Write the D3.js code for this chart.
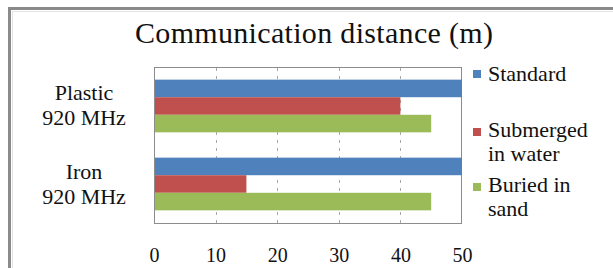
<!DOCTYPE html>
<html><head><meta charset="utf-8">
<script src="https://cdn.jsdelivr.net/npm/d3@7"></script>
<style>html,body{margin:0;padding:0;background:#fff;overflow:hidden}</style>
</head><body>
<svg id="c" width="613" height="268"></svg>
<script>
const categories = ["Plastic|920 MHz", "Iron|920 MHz"];
const seriesNames = ["Standard", "Submerged|in water", "Buried in|sand"];
const standard = [50, 50];
const submerged = [40, 15];
const buried = [45, 45];
const xTicks = [0, 10, 20, 30, 40, 50];
const colors = ["#4F81BD", "#C0504D", "#9BBB59"];
const title = "Communication distance (m)";

const seriesValues = [standard, submerged, buried];
const svg = d3.select("#c");
const serif = "'Liberation Serif', 'Times New Roman', serif";

// outer frame
svg.append("rect").attr("x", 9.5).attr("y", 8.5).attr("width", 700).attr("height", 400)
  .attr("fill", "#fff").attr("stroke", "#8a8a8a").attr("stroke-width", 3);
svg.append("rect").attr("x", 12.5).attr("y", 11.5).attr("width", 700).attr("height", 400)
  .attr("fill", "none").attr("stroke", "#e4e4e4").attr("stroke-width", 1);

const L = 154, R = 462, T = 67, B = 223;
const x = d3.scaleLinear().domain([0, 50]).range([L, R]);
const y = d3.scaleBand().domain(categories).range([T, B]).padding(0);
const ySub = d3.scaleBand().domain(d3.range(3)).range([0, y.bandwidth()]).paddingInner(0).paddingOuter(0.72);

// title
svg.append("text").attr("x", 314).attr("y", 43).attr("text-anchor", "middle")
  .attr("font-family", serif).attr("font-size", 30)
  .attr("fill", "#111").text(title)
  .attr("textLength", 358).attr("lengthAdjust", "spacing");

// plot frame
svg.append("rect").attr("x", L + 0.5).attr("y", T + 0.5).attr("width", R - L - 1).attr("height", B - T)
  .attr("fill", "#fff").attr("stroke", "#8c8c8c").attr("stroke-width", 1);

// gridlines
svg.append("g").selectAll("line").data(xTicks.filter(d => d > 0 && d < 50)).join("line")
  .attr("x1", d => Math.round(x(d)) + 0.5).attr("x2", d => Math.round(x(d)) + 0.5)
  .attr("y1", T + 1).attr("y2", B)
  .attr("stroke", "#a8a8a8").attr("stroke-width", 1).attr("stroke-dasharray", "3,5");

// bars
const g = svg.append("g");
categories.forEach((c, ci) => {
  seriesValues.forEach((vals, si) => {
    g.append("rect")
      .attr("x", x(0) + 1)
      .attr("y", y(c) + ySub(si))
      .attr("width", x(vals[ci]) - x(0) - 1)
      .attr("height", ySub.bandwidth())
      .attr("fill", colors[si]);
  });
});

// category labels
const catBase = [[100, 125], [179, 204]];
categories.forEach((c, ci) => {
  c.split("|").forEach((line, li) => {
    svg.append("text").attr("text-anchor", "middle").attr("font-family", serif)
      .attr("font-size", 22).attr("fill", "#111")
      .attr("x", 84).attr("y", catBase[ci][li]).text(line);
  });
});

// x axis
const xAxis = d3.axisBottom(x).tickValues(xTicks).tickSize(0).tickPadding(0);
const ax = svg.append("g").attr("transform", `translate(0,${B})`).call(xAxis);
ax.select(".domain").remove();
ax.selectAll("text").attr("font-family", serif).attr("font-size", 20).attr("fill", "#111")
  .attr("dy", null).attr("y", 39);

// legend
const legSq = [70, 128, 183];
const legBase = [[81], [137, 161], [192, 216]];
seriesNames.forEach((s, si) => {
  svg.append("rect").attr("x", 473).attr("y", legSq[si]).attr("width", 8).attr("height", 8).attr("fill", colors[si]);
  s.split("|").forEach((line, li) => {
    svg.append("text").attr("font-family", serif).attr("font-size", 22).attr("fill", "#111")
      .attr("x", 488).attr("y", legBase[si][li]).text(line);
  });
});
</script>
</body></html>
